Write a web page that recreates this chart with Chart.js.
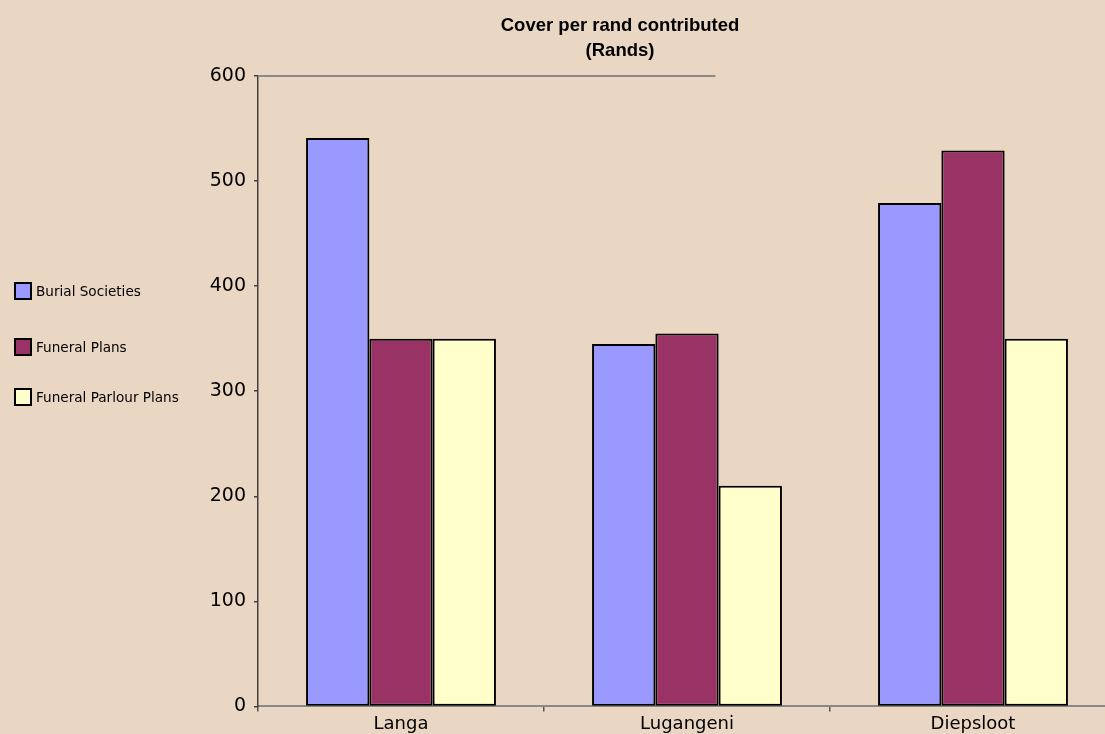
<!DOCTYPE html>
<html>
<head>
<meta charset="utf-8">
<script src="https://cdn.jsdelivr.net/npm/chart.js@4/dist/chart.umd.min.js"></script>
<style>
  html, body { margin: 0; padding: 0; overflow: hidden; background: #EAD7C3; }
  #wrap { position: absolute; left: 0; top: 0; width: 1240px; height: 737px; }
  #legend { position: absolute; left: 0; top: 0; font-family: "DejaVu Sans", sans-serif; font-size: 13.6px; color: #000; }
  .item { position: absolute; left: 14px; display: flex; align-items: center; white-space: nowrap; }
  .box { width: 14px; height: 14px; border: 2px solid #000; margin-right: 4px; }
</style>
</head>
<body>
<div id="wrap"><canvas id="c"></canvas></div>
<div id="legend"></div>
<script>
const categories = ['Langa', 'Lugangeni', 'Diepsloot'];
const seriesNames = ['Burial Societies', 'Funeral Plans', 'Funeral Parlour Plans'];
const burialSocieties = [541, 345, 479];
const funeralPlans = [350, 355, 529];
const funeralParlourPlans = [350, 210, 350];
const yTicks = [0, 100, 200, 300, 400, 500, 600];
const titleLines = ['Cover per rand contributed', '(Rands)'];

const colors = ['#9999FF', '#993366', '#FFFFCC'];
const values = [burialSocieties, funeralPlans, funeralParlourPlans];

const topLine = {
  id: 'topLine',
  beforeDatasetsDraw(chart) {
    const {ctx, chartArea, scales} = chart;
    const y = scales.y.getPixelForValue(yTicks[yTicks.length - 1]);
    ctx.save();
    ctx.strokeStyle = '#8a8a8a';
    ctx.lineWidth = 2;
    ctx.beginPath();
    ctx.moveTo(chartArea.left, y);
    ctx.lineTo(chartArea.left + (chartArea.right - chartArea.left) * 0.533, y);
    ctx.stroke();
    ctx.restore();
  }
};

const chart = new Chart(document.getElementById('c'), {
  type: 'bar',
  data: {
    labels: categories,
    datasets: seriesNames.map((n, i) => ({
      label: n,
      data: values[i],
      backgroundColor: colors[i],
      borderColor: '#000',
      borderWidth: 2,
      borderSkipped: false,
      categoryPercentage: 0.664,
      barPercentage: 1.0
    }))
  },
  options: {
    responsive: true,
    maintainAspectRatio: false,
    animation: false,
    layout: { padding: { left: 124, right: 124, top: 0, bottom: 0 } },
    plugins: {
      legend: { display: false },
      tooltip: { enabled: false },
      title: {
        display: true,
        text: titleLines,
        color: '#000',
        font: { family: 'Liberation Sans', size: 18.5, weight: 'bold', lineHeight: 1.35 },
        padding: { top: 13, bottom: 13 }
      }
    },
    scales: {
      x: {
        grid: { display: true, drawOnChartArea: false, offset: true, tickLength: 5, color: '#555', lineWidth: 1.5 },
        border: { display: true, color: '#888', width: 2 },
        ticks: { color: '#000', font: { family: 'DejaVu Sans', size: 18 }, padding: 2 }
      },
      y: {
        min: 0, max: 600,
        afterFit(s) { s.width = 134; },
        afterBuildTicks(s) { s.ticks = yTicks.map(v => ({ value: v })); },
        grid: { display: true, drawOnChartArea: false, tickLength: 4, color: '#404040', lineWidth: 1.5 },
        border: { display: true, color: '#404040', width: 1.5 },
        ticks: { color: '#000', font: { family: 'DejaVu Sans', size: 19 }, padding: 8 }
      }
    }
  },
  plugins: [topLine]
});

const legendTops = [282, 338, 388];
const lg = document.getElementById('legend');
chart.data.datasets.forEach((ds, i) => {
  const it = document.createElement('div');
  it.className = 'item';
  it.style.top = legendTops[i] + 'px';
  const b = document.createElement('div');
  b.className = 'box';
  b.style.background = ds.backgroundColor;
  const t = document.createElement('span');
  t.textContent = ds.label;
  it.appendChild(b); it.appendChild(t);
  lg.appendChild(it);
});
</script>
</body>
</html>
